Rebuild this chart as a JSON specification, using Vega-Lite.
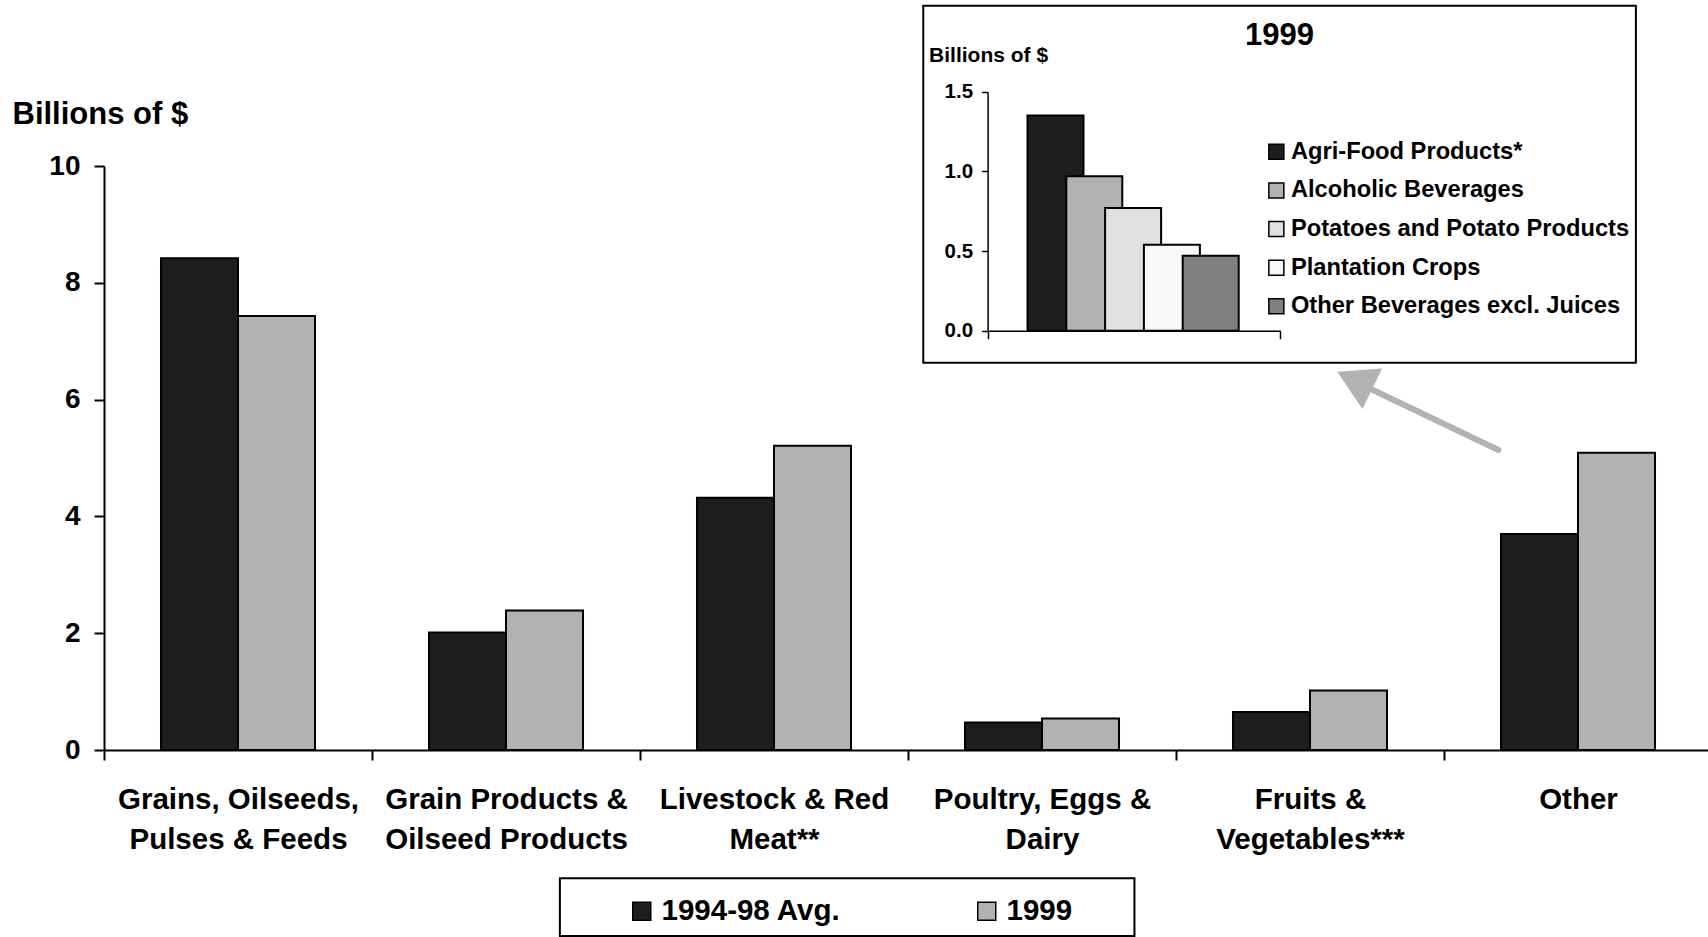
{
  "$schema": "https://vega.github.io/schema/vega-lite/v6.json",
  "width": 1604,
  "height": 584,
  "autosize": {"type": "none"},
  "padding": {"left": 104, "top": 166, "right": 0, "bottom": 187},
  "background": "white",
  "config": {
    "view": {"stroke": null},
    "font": "Liberation Sans",
    "axis": {"domainColor": "black", "tickColor": "black", "labelColor": "black", "titleColor": "black", "grid": false}
  },
  "datasets": {
    "main": [
      {"category": "Grains, Oilseeds,|Pulses & Feeds", "series": "1994-98 Avg.", "value": 8.42},
      {"category": "Grains, Oilseeds,|Pulses & Feeds", "series": "1999", "value": 7.43},
      {"category": "Grain Products &|Oilseed Products", "series": "1994-98 Avg.", "value": 2.01},
      {"category": "Grain Products &|Oilseed Products", "series": "1999", "value": 2.39},
      {"category": "Livestock & Red|Meat**", "series": "1994-98 Avg.", "value": 4.32},
      {"category": "Livestock & Red|Meat**", "series": "1999", "value": 5.21},
      {"category": "Poultry, Eggs &|Dairy", "series": "1994-98 Avg.", "value": 0.47},
      {"category": "Poultry, Eggs &|Dairy", "series": "1999", "value": 0.54},
      {"category": "Fruits &|Vegetables***", "series": "1994-98 Avg.", "value": 0.65},
      {"category": "Fruits &|Vegetables***", "series": "1999", "value": 1.02},
      {"category": "Other", "series": "1994-98 Avg.", "value": 3.70},
      {"category": "Other", "series": "1999", "value": 5.09}
    ],
    "inset": [
      {"year": "1999", "product": "Agri-Food Products*", "value": 1.35},
      {"year": "1999", "product": "Alcoholic Beverages", "value": 0.97},
      {"year": "1999", "product": "Potatoes and Potato Products", "value": 0.77},
      {"year": "1999", "product": "Plantation Crops", "value": 0.54},
      {"year": "1999", "product": "Other Beverages excl. Juices", "value": 0.47}
    ]
  },
  "layer": [
    {
      "data": {"values": [{}]},
      "layer": [
        {
          "mark": {"type": "rect", "fillOpacity": 0, "stroke": "black", "strokeWidth": 2},
          "encoding": {
            "x": {"datum": 3.057, "type": "quantitative", "scale": {"domain": [0, 6], "range": [0, 1608], "nice": false, "zero": false}, "axis": null},
            "x2": {"datum": 5.716},
            "y": {"datum": 12.745, "type": "quantitative", "scale": {"domain": [0, 10], "nice": false, "zero": false}, "axis": null},
            "y2": {"datum": 6.632}
          }
        },
        {
          "mark": {"type": "rect", "fillOpacity": 0, "stroke": "black", "strokeWidth": 2},
          "encoding": {
            "x": {"datum": 1.701, "type": "quantitative", "scale": {"domain": [0, 6], "range": [0, 1608], "nice": false, "zero": false}, "axis": null},
            "x2": {"datum": 3.845},
            "y": {"datum": -2.197, "type": "quantitative", "scale": {"domain": [0, 10], "nice": false, "zero": false}, "axis": null},
            "y2": {"datum": -3.185}
          }
        },
        {
          "mark": {"type": "text", "text": "1999", "fontSize": 31, "fontWeight": "bold", "align": "center", "baseline": "middle", "color": "black"},
          "encoding": {
            "x": {"datum": 4.386, "type": "quantitative", "scale": {"domain": [0, 6], "range": [0, 1608], "nice": false, "zero": false}, "axis": null},
            "y": {"datum": 12.226, "type": "quantitative", "scale": {"domain": [0, 10], "nice": false, "zero": false}, "axis": null}
          }
        },
        {
          "mark": {"type": "rule", "color": "#b2b2b2", "strokeWidth": 6, "strokeCap": "round"},
          "encoding": {
            "x": {"datum": 5.203, "type": "quantitative", "scale": {"domain": [0, 6], "range": [0, 1608], "nice": false, "zero": false}, "axis": null},
            "x2": {"datum": 4.731},
            "y": {"datum": 5.137, "type": "quantitative", "scale": {"domain": [0, 10], "nice": false, "zero": false}, "axis": null},
            "y2": {"datum": 6.173}
          }
        },
        {
          "mark": {"type": "point", "shape": "triangle-up", "filled": true, "color": "#b2b2b2", "opacity": 1, "size": 2025, "angle": 296},
          "encoding": {
            "x": {"datum": 4.667, "type": "quantitative", "scale": {"domain": [0, 6], "range": [0, 1608], "nice": false, "zero": false}, "axis": null},
            "y": {"datum": 6.332, "type": "quantitative", "scale": {"domain": [0, 10], "nice": false, "zero": false}, "axis": null}
          }
        }
      ]
    },
    {
      "data": {"name": "main"},
      "mark": {"type": "bar", "stroke": "black", "strokeWidth": 2},
      "encoding": {
        "x": {
          "field": "category", "type": "nominal", "sort": null,
          "scale": {"range": [0, 1608], "paddingInner": 0, "paddingOuter": 0},
          "axis": {
            "orient": "bottom", "title": null, "tickBand": "extent", "tickSize": 10, "tickWidth": 2, "domainWidth": 2,
            "labelAngle": 0, "labelFontSize": 29.5, "labelFontWeight": "bold", "labelPadding": 25, "labelLimit": 400,
            "labelLineHeight": 40, "labelBaseline": "top", "labelExpr": "split(datum.label, '|')"
          }
        },
        "xOffset": {"field": "series", "type": "nominal", "sort": null, "scale": {"paddingInner": 0, "paddingOuter": 0.74}},
        "y": {
          "field": "value", "type": "quantitative",
          "scale": {"domain": [0, 10], "nice": false},
          "axis": {
            "orient": "left", "values": [0, 2, 4, 6, 8, 10], "tickSize": 10, "tickWidth": 2, "domainWidth": 2,
            "labelFontSize": 28, "labelFontWeight": "bold", "labelPadding": 14,
            "title": "Billions of $", "titleAngle": 0, "titleAlign": "left", "titleBaseline": "alphabetic",
            "titleX": -92, "titleY": -43, "titleFontSize": 31, "titleFontWeight": "bold"
          }
        },
        "color": {
          "field": "series", "type": "nominal", "sort": null,
          "scale": {"domain": ["1994-98 Avg.", "1999"], "range": ["#1e1e1e", "#b2b2b2"]},
          "legend": {
            "orient": "none", "direction": "horizontal", "legendX": 523, "legendY": 730, "title": null,
            "padding": 0, "symbolType": "square", "symbolSize": 324, "symbolStrokeColor": "black", "symbolStrokeWidth": 1.5,
            "symbolOpacity": 1, "labelFontSize": 29.5, "labelFontWeight": "bold", "labelColor": "black", "labelOffset": 5,
            "columnPadding": 131, "labelLimit": 400
          }
        }
      }
    },
    {
      "data": {"name": "inset"},
      "mark": {"type": "bar", "stroke": "black", "strokeWidth": 2, "width": 56},
      "encoding": {
        "x": {
          "field": "year", "type": "nominal",
          "scale": {"range": [883.6, 1176.3], "paddingInner": 0, "paddingOuter": 0},
          "axis": {"orient": "bottom", "offset": -419.3, "zindex": 2, "labels": false, "title": null, "tickBand": "extent", "tickSize": 8, "tickWidth": 1.5, "domainWidth": 1.5}
        },
        "xOffset": {"field": "product", "type": "nominal", "sort": null, "scale": {"paddingInner": 0, "paddingOuter": 0, "range": [48.5, 242.5]}},
        "y": {
          "field": "value", "type": "quantitative",
          "scale": {"domain": [0, 1.5], "nice": false, "range": [164.7, -74.3]},
          "axis": {
            "orient": "left", "offset": -883.6, "zindex": 2, "values": [0, 0.5, 1, 1.5], "format": ".1f", "tickSize": 6, "tickWidth": 1.5, "domainWidth": 1.5,
            "labelFontSize": 20.5, "labelFontWeight": "bold", "labelPadding": 9,
            "title": "Billions of $", "titleAngle": 0, "titleAlign": "left", "titleBaseline": "alphabetic",
            "titleX": -59, "titleY": -104.5, "titleFontSize": 21, "titleFontWeight": "bold"
          }
        },
        "color": {
          "field": "product", "type": "nominal", "sort": null,
          "scale": {
            "domain": ["Agri-Food Products*", "Alcoholic Beverages", "Potatoes and Potato Products", "Plantation Crops", "Other Beverages excl. Juices"],
            "range": ["#1e1e1e", "#b2b2b2", "#e0e0e0", "#f8f8f8", "#808080"]
          },
          "legend": {
            "orient": "none", "direction": "vertical", "legendX": 1160.5, "legendY": -26, "title": null,
            "padding": 0, "symbolType": "square", "symbolSize": 225, "symbolStrokeColor": "black", "symbolStrokeWidth": 1.5,
            "symbolOpacity": 1, "labelFontSize": 23.7, "labelFontWeight": "bold", "labelColor": "black", "labelOffset": 2.7,
            "rowPadding": 13.6, "labelLimit": 400
          }
        }
      }
    }
  ],
  "resolve": {
    "scale": {"x": "independent", "y": "independent", "color": "independent", "xOffset": "independent"},
    "axis": {"x": "independent", "y": "independent"},
    "legend": {"color": "independent"}
  }
}
